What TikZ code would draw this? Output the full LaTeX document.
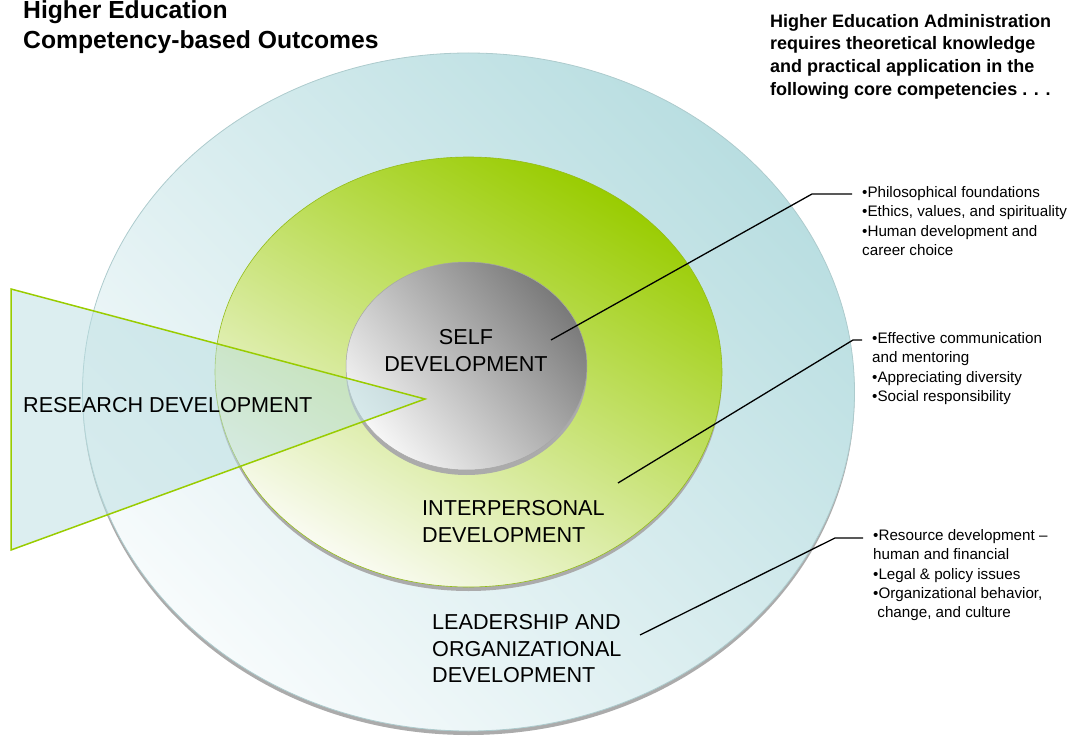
\documentclass[tikz,border=0pt]{standalone}
\usepackage{fontspec}
\setmainfont{Liberation Sans}
\usetikzlibrary{positioning}
\definecolor{ringblue}{HTML}{B9DEE1}
\definecolor{paleblue}{HTML}{F7FBFC}
\definecolor{ringgreen}{HTML}{99CC00}
\definecolor{midgreen}{HTML}{ACD57E}
\definecolor{palegreen}{HTML}{FAFBF3}
\definecolor{rimgray}{HTML}{ABABAB}
\definecolor{coregray}{HTML}{7A7A7A}
\definecolor{corelight}{HTML}{F6F6F6}
\tikzset{
  ringlabel/.style={font=\fontsize{21.6}{26.5}\selectfont, inner sep=0pt},
  bulletlist/.style={font=\fontsize{15.2}{19.4}\selectfont, align=left, anchor=north west, inner xsep=10pt, inner ysep=0pt},
  headline/.style={font=\bfseries\fontsize{18}{22.7}\selectfont, align=left, anchor=north west, inner sep=0pt},
  leader/.style={line width=1.3pt},
  rim/.style={fill=rimgray, draw=none},
}

\begin{document}
\begin{tikzpicture}[x=1pt,y=-1pt]
  \useasboundingbox (0,0) rectangle (1071,738);
  % outer ring
  \fill[rim] (468.5,396) ellipse [x radius=386pt, y radius=339pt];
  \shadedraw[top color=ringblue, middle color=ringblue, bottom color=paleblue, shading angle=-45, draw=ringblue!80!gray, line width=0.8pt] (468.5,392) ellipse [x radius=386pt, y radius=339pt];
  % middle ring
  \fill[rim] (468.5,376) ellipse [x radius=253.5pt, y radius=215pt];
  \shadedraw[top color=ringgreen, middle color=midgreen, bottom color=palegreen, shading angle=-30, draw=ringgreen!80!gray, line width=0.6pt] (468.5,372) ellipse [x radius=253.5pt, y radius=215pt];
  % core
  \fill[rim] (466.5,371) ellipse [x radius=120.5pt, y radius=104pt];
  \shadedraw[top color=coregray, middle color=gray!55, bottom color=corelight, shading angle=-50, draw=gray!70, line width=0.5pt] (466.5,366) ellipse [x radius=120.5pt, y radius=104pt];

  % research wedge
  \draw[ringgreen, line width=1.5pt, fill=ringblue, fill opacity=0.5] (11,289) -- (425,399) -- (11,550) -- cycle;

  % titles
  \node[headline, font=\bfseries\fontsize{24.7}{30}\selectfont] (title) at (23,0.6) {Higher Education\\Competency-based Outcomes};
  \node[headline] (intro) at (770,14) {Higher Education Administration\\requires theoretical knowledge\\and practical application in the\\following core competencies . . .};

  % ring labels
  \node[ringlabel, align=center, anchor=north] (self) at (466,329.5) {SELF\\DEVELOPMENT};
  \node[ringlabel, anchor=base west] (research) at (23,412) {RESEARCH DEVELOPMENT};
  \node[ringlabel, align=left, anchor=north west] (inter) at (422,500.5) {INTERPERSONAL\\DEVELOPMENT};
  \node[ringlabel, align=left, anchor=north west] (lead) at (432,614.5) {LEADERSHIP AND\\ORGANIZATIONAL\\DEVELOPMENT};

  % competency lists
  \node[bulletlist] (selflist) at (852,186) {•Philosophical foundations\\•Ethics, values, and spirituality\\•Human development and\\career choice};
  \node[bulletlist] (interlist) at (862,332) {•Effective communication\\and mentoring\\•Appreciating diversity\\•Social responsibility};
  \node[bulletlist] (leadlist) at (863,529) {•Resource development –\\human and financial\\•Legal \& policy issues\\•Organizational behavior,\\\ change, and culture};

  % leaders
  \coordinate (selfpt) at (551,340);
  \coordinate (selfbend) at (812,194);
  \coordinate (interpt) at (618,483);
  \coordinate (interbend) at (853,340);
  \coordinate (leadpt) at (640,635);
  \coordinate (leadbend) at (835,538);
  \draw[leader] (selfpt) -- (selfbend) -- (selfbend -| selflist.west);
  \draw[leader] (interpt) -- (interbend) -- (interbend -| interlist.west);
  \draw[leader] (leadpt) -- (leadbend) -- (leadbend -| leadlist.west);
\end{tikzpicture}
\end{document}
